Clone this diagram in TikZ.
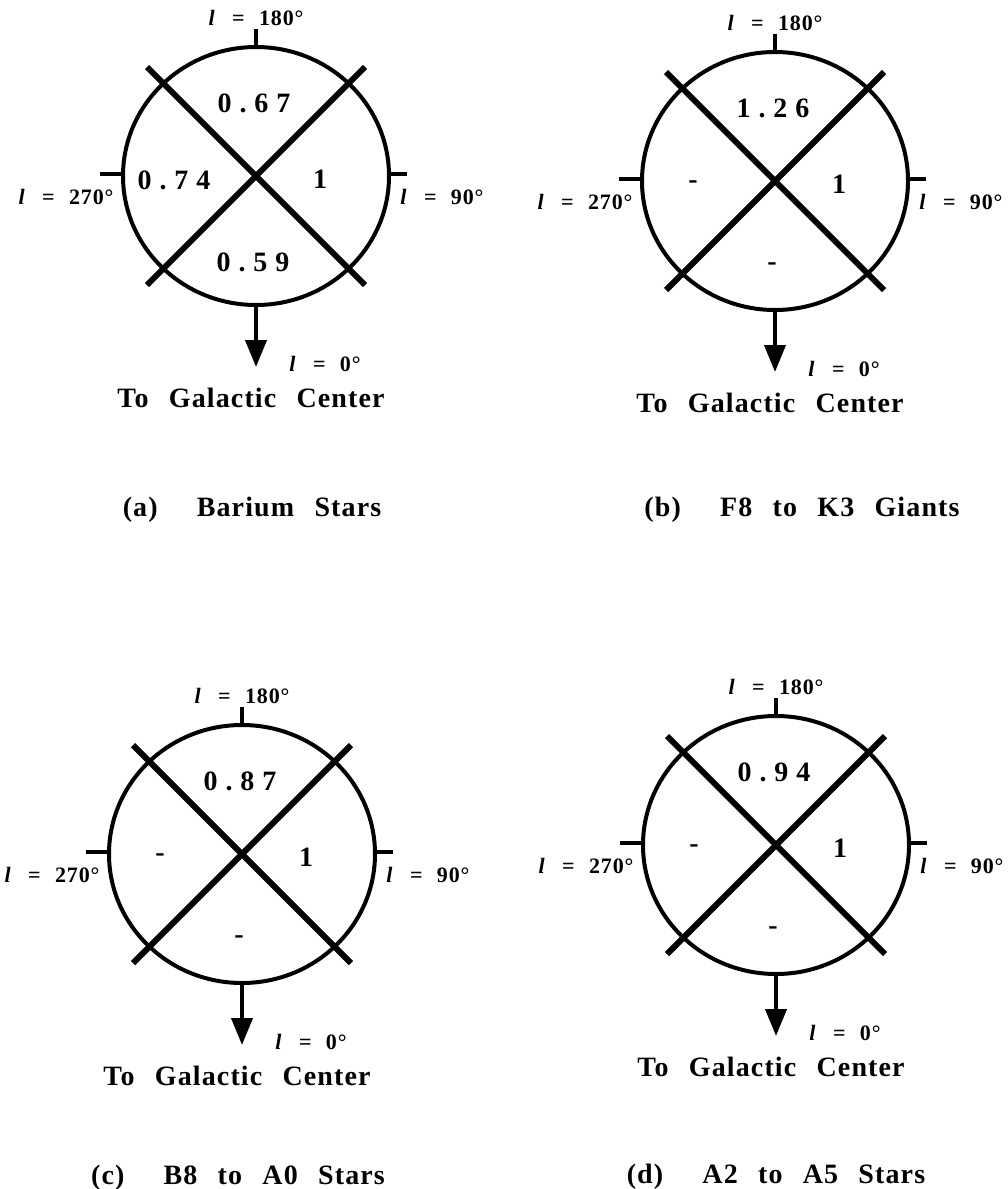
\documentclass[tikz,border=0pt]{standalone}
\usepackage{fontspec}
\setmainfont{Liberation Serif}
\newfontfamily\figfont[LetterSpace=4, WordSpace=2.5]{Liberation Serif}
\newfontfamily\numfont[LetterSpace=28]{Liberation Serif}
\usetikzlibrary{arrows.meta}
\newcommand{\glong}[1]{{\itshape l}\hspace{0.8em}=\hspace{0.65em}#1°}

\begin{document}
\begin{tikzpicture}[
      x=0.5pt, y=-0.5pt,
      ring/.style={line width=2pt},
      xline/.style={line width=3pt},
      axtick/.style={line width=2pt},
      gcarrow/.style={-{Triangle[length=13.5pt, width=10.5pt]}, line width=2pt},
      lab/.style={font=\figfont\bfseries\fontsize{11}{13}\selectfont, inner sep=0pt},
      txt/.style={font=\figfont\bfseries\fontsize{14}{17}\selectfont, inner sep=0pt},
      num/.style={font=\numfont\bfseries\fontsize{14}{17}\selectfont, inner sep=0pt}
    ]
    \useasboundingbox (0,0) rectangle (1007,1189);

    \foreach \p/\cx/\cy/\nt/\nl/\nr/\nb in {a/256/176/0.67/0.74/1/0.59, b/775/181/1.26/-/1/-,
        c/242/854/0.87/-/1/-, d/776/845/0.94/-/1/-} {
      \begin{scope}[shift={(\cx,\cy)}]
        \coordinate (\p) at (0,0);
        \draw[ring] (\p) ellipse [x radius=133, y radius=129];
        \draw[xline] (-109,-109) -- (109,109);
        \draw[xline] (109,-109) -- (-109,109);

        % ticks at the four longitudes
        \coordinate (\p-n) at (0,-129);   \coordinate (\p-nt) at (0,-147);
        \coordinate (\p-w) at (-133,-2);  \coordinate (\p-wt) at (-156,-2);
        \coordinate (\p-e) at (133,-2);   \coordinate (\p-et) at (151,-2);
        \coordinate (\p-s) at (0,129);    \coordinate (\p-tip) at (0,191);
        \draw[axtick] (\p-n) -- (\p-nt);
        \draw[axtick] (\p-w) -- (\p-wt);
        \draw[axtick] (\p-e) -- (\p-et);
        \draw[gcarrow] (\p-s) -- (\p-tip);

        \node[lab] (\p-180) at (0,-158) {\glong{180}};
        \node[lab] (\p-270) at (-190,21) {\glong{270}};
        \node[lab] (\p-90)  at (186,21) {\glong{90}};
        \node[lab] (\p-0)   at (69,188) {\glong{0}};
        \node[txt, anchor=base] (\p-gc) at (-5,231) {To Galactic Center};

        \node[num] (\p-top)    at (-2,-73) {\nt};
        \node[num] (\p-left)   at (-82,4) {\nl};
        \node[num] (\p-right)  at (64,3)  {\nr};
        \node[num] (\p-bottom) at (-3,86)  {\nb};
      \end{scope}
    }

    \node[txt, anchor=base] (cap-a) at (252,516)  {(a)\hspace{1.4em}Barium Stars};
    \node[txt, anchor=base] (cap-b) at (802,516)  {(b)\hspace{1.4em}F8 to K3 Giants};
    \node[txt, anchor=base] (cap-c) at (238,1184) {(c)\hspace{1.4em}B8 to A0 Stars};
    \node[txt, anchor=base] (cap-d) at (776,1183) {(d)\hspace{1.4em}A2 to A5 Stars};
  \end{tikzpicture}
\end{document}
